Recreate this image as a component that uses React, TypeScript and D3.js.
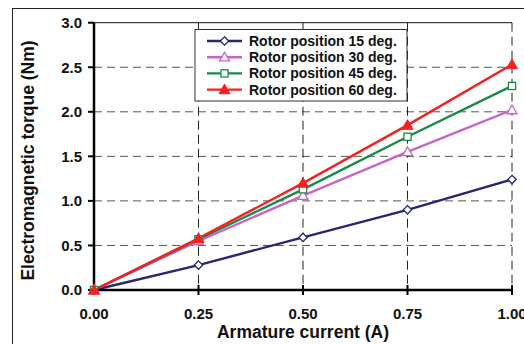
import React from "react";
import * as d3 from "d3";

const xValues = [0, 0.25, 0.5, 0.75, 1.0];
const xTicks = [0, 0.25, 0.5, 0.75, 1.0];
const yTicks = [0, 0.5, 1.0, 1.5, 2.0, 2.5, 3.0];
const seriesNames = [
  "Rotor position 15 deg.",
  "Rotor position 30 deg.",
  "Rotor position 45 deg.",
  "Rotor position 60 deg.",
];
const rotor15 = [0, 0.28, 0.59, 0.9, 1.24];
const rotor30 = [0, 0.55, 1.06, 1.55, 2.02];
const rotor45 = [0, 0.57, 1.13, 1.72, 2.29];
const rotor60 = [0, 0.58, 1.2, 1.85, 2.53];
const seriesValues = [rotor15, rotor30, rotor45, rotor60];
const seriesColors = ["#262673", "#c565c5", "#1b8a45", "#f52020"];
const seriesMarkers = ["diamond", "triangleOpen", "square", "triangleFilled"];

const W = 524;
const H = 344;
const left = 94;
const right = 512;
const top = 22.7;
const bottom = 290;
const font = "'Liberation Sans', Arial, sans-serif";

function Marker({ kind, x, y, color }: { kind: string; x: number; y: number; color: string }) {
  if (kind === "diamond") {
    const r = 4.2;
    return (
      <path
        d={`M${x},${y - r}L${x + r},${y}L${x},${y + r}L${x - r},${y}Z`}
        fill="white"
        stroke={color}
        strokeWidth={1.3}
      />
    );
  }
  if (kind === "square") {
    const r = 3.6;
    return <rect x={x - r} y={y - r} width={2 * r} height={2 * r} fill="white" stroke={color} strokeWidth={1.3} />;
  }
  if (kind === "triangleOpen") {
    const r = 5;
    return (
      <path
        d={`M${x},${y - r}L${x + r},${y + r * 0.75}L${x - r},${y + r * 0.75}Z`}
        fill="white"
        stroke={color}
        strokeWidth={1.3}
      />
    );
  }
  const r = 5.5;
  return <path d={`M${x},${y - r}L${x + r},${y + r * 0.75}L${x - r},${y + r * 0.75}Z`} fill={color} stroke={color} strokeWidth={1} />;
}

export default function App() {
  const x = d3.scaleLinear().domain([0, 1]).range([left, right]);
  const y = d3.scaleLinear().domain([0, 3]).range([bottom, top]);
  const line = d3
    .line<number>()
    .x((_, i) => x(xValues[i]))
    .y((d) => y(d));

  const legX = 195;
  const legY = 29.5;
  const legW = 212;
  const legH = 71.5;
  const rowY = (i: number) => 41 + i * 16.2;

  return (
    <div style={{ position: "fixed", left: 0, top: 0 }}>
      <svg width={W} height={H} style={{ display: "block", background: "white" }}>
        <rect x={12.5} y={8.5} width={530} height={350} fill="white" stroke="#222" strokeWidth={1} />
        {/* horizontal grid */}
        {yTicks.slice(1, -1).map((t) => (
          <line key={"h" + t} x1={left} x2={right} y1={y(t)} y2={y(t)} stroke="#555" strokeWidth={1} strokeDasharray="8,5" />
        ))}
        {/* vertical grid */}
        {xTicks.slice(1).map((t) => (
          <line key={"v" + t} x1={x(t)} x2={x(t)} y1={top} y2={bottom} stroke="#222" strokeWidth={1} strokeDasharray="9,5" />
        ))}
        {/* top border */}
        <line x1={left} x2={right} y1={top} y2={top} stroke="#111" strokeWidth={1} />
        {/* series */}
        {seriesValues.map((vals, si) => (
          <g key={"s" + si}>
            <path d={line(vals) || ""} fill="none" stroke={seriesColors[si]} strokeWidth={2.4} />
          </g>
        ))}
        {/* axes */}
        <line x1={left} x2={left} y1={top} y2={bottom} stroke="black" strokeWidth={2.5} />
        <line x1={left} x2={right} y1={bottom} y2={bottom} stroke="black" strokeWidth={2.5} />
        {yTicks.map((t) => (
          <line key={"yt" + t} x1={left - 6} x2={left} y1={y(t)} y2={y(t)} stroke="black" strokeWidth={2} />
        ))}
        {xTicks.map((t) => (
          <line key={"xt" + t} x1={x(t)} x2={x(t)} y1={bottom - 5} y2={bottom + 5} stroke="black" strokeWidth={2} />
        ))}
        {seriesValues.map((vals, si) => (
          <g key={"m" + si}>
            {vals.map((v, i) => (
              <Marker key={i} kind={seriesMarkers[si]} x={x(xValues[i])} y={y(v)} color={seriesColors[si]} />
            ))}
          </g>
        ))}
        {/* tick labels */}
        {yTicks.map((t) => (
          <text
            key={"yl" + t}
            x={82}
            y={y(t)}
            dy="0.36em"
            textAnchor="end"
            fontFamily={font}
            fontWeight="bold"
            fontSize={15}
            fill="#111"
          >
            {d3.format(".1f")(t)}
          </text>
        ))}
        {xTicks.map((t) => (
          <text
            key={"xl" + t}
            x={x(t)}
            y={318.5}
            textAnchor="middle"
            fontFamily={font}
            fontWeight="bold"
            fontSize={15}
            fill="#111"
          >
            {d3.format(".2f")(t)}
          </text>
        ))}
        <text x={(left + right) / 2} y={338} textAnchor="middle" fontFamily={font} fontWeight="bold" fontSize={17.5} fill="#111">
          Armature current (A)
        </text>
        <text
          transform={`translate(34,160.5) rotate(-90)`}
          textAnchor="middle"
          fontFamily={font}
          fontWeight="bold"
          fontSize={17.5}
          fill="#111"
        >
          Electromagnetic torque (Nm)
        </text>
        {/* legend */}
        <rect x={legX} y={legY} width={legW} height={legH} fill="white" stroke="#333" strokeWidth={1} />
        {seriesNames.map((name, i) => (
          <g key={"l" + i}>
            <line x1={207} x2={242} y1={rowY(i)} y2={rowY(i)} stroke={seriesColors[i]} strokeWidth={2.4} />
            <Marker kind={seriesMarkers[i]} x={224.5} y={rowY(i)} color={seriesColors[i]} />
            <text x={249} y={rowY(i)} dy="0.36em" fontFamily={font} fontWeight="bold" fontSize={14} fill="#111">
              {name}
            </text>
          </g>
        ))}
      </svg>
    </div>
  );
}
